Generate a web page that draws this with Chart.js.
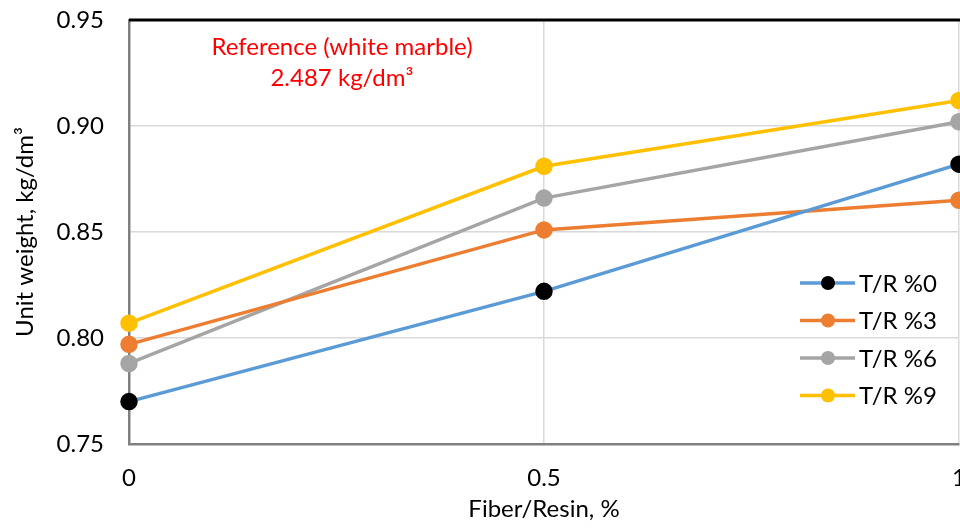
<!DOCTYPE html>
<html>
<head>
<meta charset="utf-8">
<script src="https://cdn.jsdelivr.net/npm/chart.js@4.4.1/dist/chart.umd.min.js"></script>
<style>
  html, body { margin: 0; padding: 0; background: #fff; overflow: hidden; }
  #wrap { width: 1000px; height: 528px; }
</style>
</head>
<body>
<div id="wrap"><canvas id="myChart" width="1000" height="528"></canvas></div>
<script>
const fiberResin = [0, 0.5, 1];
const tr0 = [0.770, 0.822, 0.882];
const tr3 = [0.797, 0.851, 0.865];
const tr6 = [0.788, 0.866, 0.902];
const tr9 = [0.807, 0.881, 0.912];
const seriesLabels = ['T/R %0', 'T/R %3', 'T/R %6', 'T/R %9'];
const yTicks = [0.75, 0.80, 0.85, 0.90, 0.95];
const xTicks = [0, 0.5, 1];

const FONT = 'Lato, "Open Sans", sans-serif';
const FS = 24;

const toPoints = vals => vals.map((v, i) => ({x: fiberResin[i], y: v}));

const mkSet = (label, vals, line, marker) => ({
    label: label,
    data: toPoints(vals),
    borderColor: line,
    backgroundColor: marker,
    pointBackgroundColor: marker,
    pointBorderColor: marker,
    pointRadius: 7,
    pointHoverRadius: 7,
    borderWidth: 3.5,
    tension: 0,
    clip: false
});

// legend drawn inside the plot, Excel style
const boxLegend = {
    id: 'boxLegend',
    afterDraw(chart) {
        const ctx = chart.ctx;
        const ys = [283, 320.5, 358, 395.5];
        ctx.save();
        chart.data.datasets.forEach((ds, i) => {
            const y = ys[i];
            ctx.strokeStyle = ds.borderColor;
            ctx.lineWidth = 3.5;
            ctx.beginPath();
            ctx.moveTo(800, y);
            ctx.lineTo(855, y);
            ctx.stroke();
            ctx.fillStyle = ds.pointBackgroundColor;
            ctx.beginPath();
            ctx.arc(828, y, 7, 0, Math.PI * 2);
            ctx.fill();
            ctx.fillStyle = '#000';
            ctx.font = FS + 'px ' + FONT;
            ctx.textAlign = 'left';
            ctx.textBaseline = 'middle';
            ctx.fillText(ds.label, 859, y + 1);
        });
        ctx.restore();
    }
};

const frame = {
    id: 'frame',
    beforeDatasetsDraw(chart) {
        const {ctx, chartArea} = chart;
        ctx.save();
        ctx.strokeStyle = '#000';
        ctx.lineWidth = 3;
        ctx.beginPath();
        ctx.moveTo(chartArea.left, chartArea.top);
        ctx.lineTo(chartArea.right + 5, chartArea.top);
        ctx.stroke();
        ctx.restore();
    },
    afterDraw(chart) {
        const ctx = chart.ctx;
        ctx.save();
        ctx.fillStyle = '#ff0000';
        ctx.font = FS + 'px ' + FONT;
        ctx.textAlign = 'center';
        ctx.textBaseline = 'middle';
        ctx.fillText('Reference (white marble)', 342, 47);
        ctx.fillText('2.487 kg/dm³', 342, 78);
        ctx.restore();
    }
};

new Chart(document.getElementById('myChart'), {
    type: 'line',
    data: {
        datasets: [
            mkSet(seriesLabels[0], tr0, '#5B9BD5', '#000000'),
            mkSet(seriesLabels[1], tr3, '#ED7D31', '#ED7D31'),
            mkSet(seriesLabels[2], tr6, '#A5A5A5', '#A5A5A5'),
            mkSet(seriesLabels[3], tr9, '#FFC000', '#FFC000')
        ]
    },
    options: {
        responsive: false,
        animation: false,
        layout: {padding: {top: 20, right: 41, left: 7, bottom: 0}},
        plugins: {legend: {display: false}, tooltip: {enabled: false}},
        scales: {
            x: {
                type: 'linear',
                min: 0,
                max: 1,
                afterBuildTicks: s => { s.ticks = xTicks.map(v => ({value: v})); },
                afterFit: s => { s.height = 84; s.paddingLeft = 0; s.paddingRight = 0; },
                ticks: {
                    color: '#000',
                    font: {family: FONT, size: FS},
                    padding: 20,
                    maxRotation: 0,
                    callback: v => String(v)
                },
                grid: {color: '#d9d9d9', lineWidth: 1.5, drawTicks: false},
                border: {color: '#808080', width: 2.5},
                title: {
                    display: true,
                    text: 'Fiber/Resin, %',
                    color: '#000',
                    font: {family: FONT, size: FS}
                }
            },
            y: {
                min: 0.75,
                max: 0.95,
                afterBuildTicks: s => { s.ticks = yTicks.map(v => ({value: v})); },
                afterFit: s => { s.width = 122; s.paddingTop = 0; s.paddingBottom = 0; },
                ticks: {
                    color: '#000',
                    font: {family: FONT, size: FS},
                    padding: 25,
                    callback: v => v.toFixed(2)
                },
                grid: {color: '#d9d9d9', lineWidth: 1.5, drawTicks: false},
                border: {color: '#808080', width: 2.5},
                title: {
                    display: true,
                    text: 'Unit weight, kg/dm³',
                    color: '#000',
                    font: {family: FONT, size: FS}
                }
            }
        }
    },
    plugins: [frame, boxLegend]
});
</script>
</body>
</html>
